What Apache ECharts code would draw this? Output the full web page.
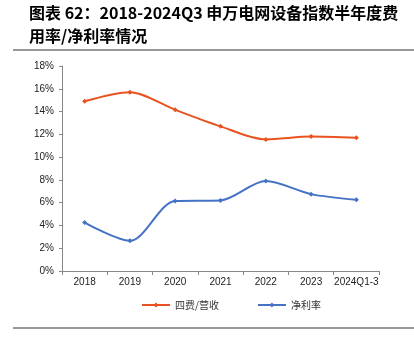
<!DOCTYPE html>
<html>
<head>
<meta charset="utf-8">
<script src="https://cdn.jsdelivr.net/npm/echarts@6/dist/echarts.min.js"></script>
<style>
html,body{margin:0;padding:0;background:#fff;}
#chart{width:414px;height:353px;}
</style>
</head>
<body>
<div id="chart"></div>
<script>
var categories = ['2018', '2019', '2020', '2021', '2022', '2023', '2024Q1-3'];
var feeRatio = [14.9, 15.7, 14.15, 12.7, 11.55, 11.8, 11.7];
var netMargin = [4.25, 2.65, 6.15, 6.2, 7.9, 6.75, 6.25];
var yTicks = [0, 2, 4, 6, 8, 10, 12, 14, 16, 18];

var chart = echarts.init(document.getElementById('chart'));
var font = '"Noto Sans CJK SC", "Microsoft YaHei", sans-serif';
var option = {
	animation: false,
	title: {
		text: '图表 62：2018-2024Q3 申万电网设备指数半年度费\n用率/净利率情况',
		left: 24,
		top: -4,
		textStyle: {
			fontFamily: font,
			fontSize: 16,
			fontWeight: 'bold',
			color: '#000',
			lineHeight: 23
		}
	},
	graphic: [
		{type: 'line', shape: {x1: 13, y1: 50, x2: 414, y2: 50}, style: {stroke: '#333', lineWidth: 1}},
		{type: 'line', shape: {x1: 13, y1: 328, x2: 414, y2: 328}, style: {stroke: '#333', lineWidth: 1}}
	],
	legend: {
		bottom: 38,
		left: 136,
		itemGap: 38,
		itemWidth: 28,
		itemHeight: 6,
		textStyle: {fontFamily: font, fontSize: 10, color: '#333'},
		data: ['四费/营收', '净利率']
	},
	grid: {left: 62, right: 35, top: 66, bottom: 82},
	xAxis: {
		type: 'category',
		data: categories,
		boundaryGap: true,
		axisLine: {lineStyle: {color: '#888'}},
		axisTick: {show: true, length: 4, lineStyle: {color: '#888'}},
		axisLabel: {fontFamily: 'Arial, "Liberation Sans", sans-serif', fontSize: 10, color: '#222', margin: 6, interval: 0}
	},
	yAxis: {
		type: 'value',
		min: yTicks[0],
		max: yTicks[yTicks.length - 1],
		interval: 2,
		axisLine: {show: true, lineStyle: {color: '#888'}},
		axisTick: {show: true, length: 3, lineStyle: {color: '#888'}},
		splitLine: {show: false},
		axisLabel: {fontFamily: 'Arial, "Liberation Sans", sans-serif', fontSize: 10, color: '#222', margin: 8, formatter: '{value}%'}
	},
	series: [
		{
			name: '四费/营收',
			type: 'line',
			smooth: 0.3,
			data: feeRatio,
			symbol: 'diamond',
			symbolSize: 5,
			itemStyle: {color: '#E8531F'},
			lineStyle: {width: 2, color: '#E8531F'}
		},
		{
			name: '净利率',
			type: 'line',
			smooth: 0.3,
			data: netMargin,
			symbol: 'diamond',
			symbolSize: 5,
			itemStyle: {color: '#4472C4'},
			lineStyle: {width: 2, color: '#4472C4'}
		}
	]
};
chart.setOption(option);
</script>
</body>
</html>
